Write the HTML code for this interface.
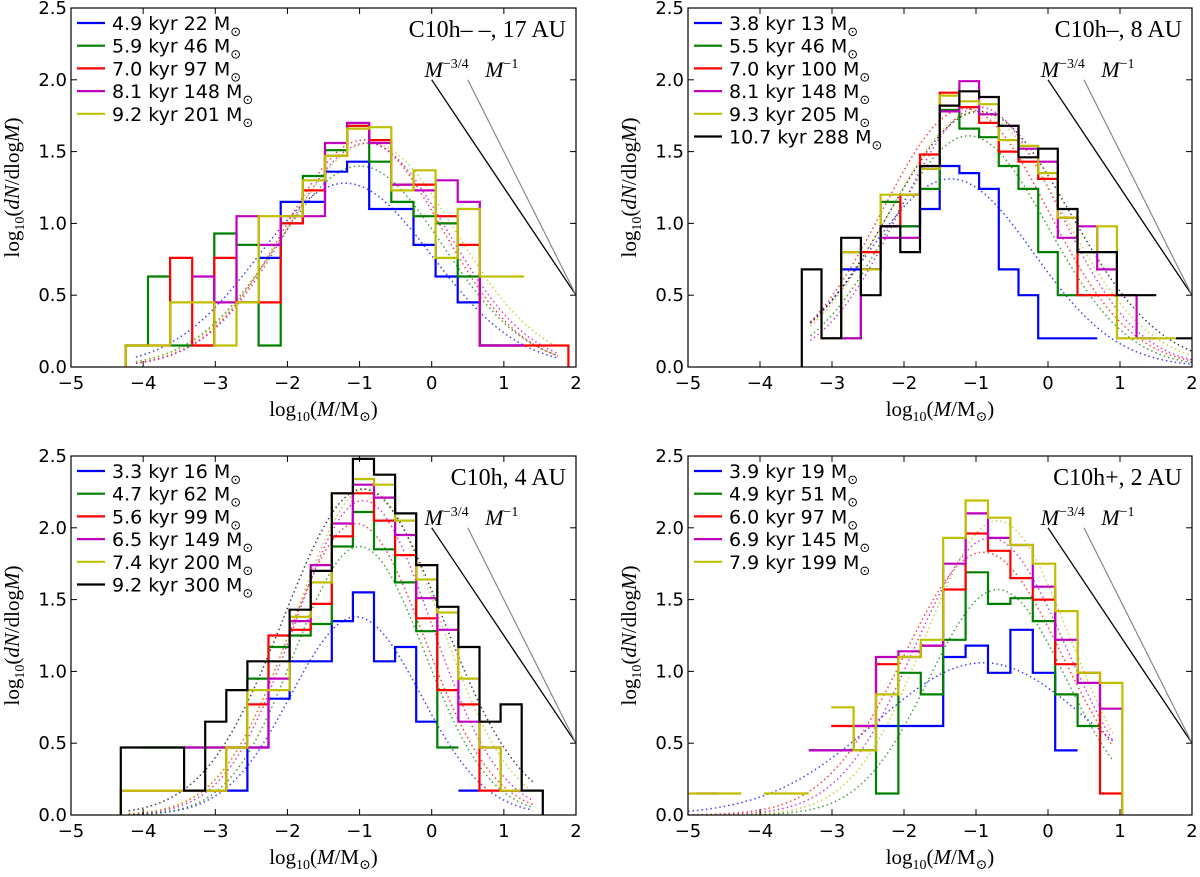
<!DOCTYPE html>
<html><head><meta charset="utf-8"><style>
html,body{margin:0;padding:0;background:#fff;}
svg{display:block;}
.tk{font-family:"DejaVu Sans","Liberation Sans",sans-serif;font-size:18px;fill:#000;}
.lg{font-family:"DejaVu Sans","Liberation Sans",sans-serif;font-size:19px;fill:#000;}
.sr{font-family:"Liberation Serif","DejaVu Serif",serif;fill:#000;}
</style></head><body>
<svg id="fig" width="1200" height="877" viewBox="0 0 1200 877" xmlns="http://www.w3.org/2000/svg"></svg>
<script>
// ---------- Data ----------
const xTicks = [-5,-4,-3,-2,-1,0,1,2];
const yTicks = [0.0,0.5,1.0,1.5,2.0,2.5];
const seriesColors = ['#0000ff','#008000','#ff0000','#bf00bf','#bfbf00','#000000'];

// Panel 1: C10h--, 17 AU
const p1Title = 'C10h\u2013 \u2013, 17 AU';
const p1Labels = ['4.9 kyr 22 M','5.9 kyr 46 M','7.0 kyr 97 M','8.1 kyr 148 M','9.2 kyr 201 M'];
const p1BinStart = -4.24, p1BinWidth = 0.3067;
const p1Blue   = [null,null,null,null,null,null,0.76,1.15,1.15,1.36,1.43,1.10,1.10,0.85,0.63,0.45,0.15,0.15];
const p1Green  = [0.15,0.63,0.15,0.15,0.93,0.85,0.15,1.00,1.33,1.51,1.68,1.43,1.15,1.05,1.00,0.63,0.15];
const p1Red    = [0.15,0.15,0.76,0.15,0.76,0.45,0.45,1.00,1.23,1.47,1.68,1.58,1.27,1.27,1.05,0.85,0.15,0.15,0.15,0.15];
const p1Purple = [null,null,null,0.63,0.45,1.05,0.85,1.05,1.05,1.56,1.70,1.56,1.27,1.23,1.30,1.15,0.15,0.15];
const p1Yellow = [0.15,0.15,0.45,0.45,0.15,0.45,1.05,1.05,1.30,1.47,1.66,1.67,1.23,1.37,0.76,1.10,0.63,0.63];
const p1FitPeak  = [1.28,1.40,1.58,1.56,1.56];
const p1FitMu    = [-1.20,-1.00,-0.95,-0.90,-0.85];
const p1FitSigma = [1.20,1.15,1.10,1.12,1.18];
const p1FitRange = [-4.1,1.75];

// Panel 2: C10h-, 8 AU
const p2Title = 'C10h\u2013, 8 AU';
const p2Labels = ['3.8 kyr 13 M','5.5 kyr 46 M','7.0 kyr 100 M','8.1 kyr 148 M','9.3 kyr 205 M','10.7 kyr 288 M'];
const p2BinStart = -3.42, p2BinWidth = 0.2736;
const p2Blue   = [null,null,0.68,0.68,0.98,0.98,1.10,1.40,1.35,1.24,0.68,0.50,0.20,0.20,0.20];
const p2Green  = [null,0.20,0.20,0.68,1.15,0.98,1.24,1.79,1.66,1.60,1.40,1.24,0.80,0.50,0.50];
const p2Red    = [null,0.20,0.80,0.80,0.98,1.20,1.48,1.91,1.81,1.70,1.50,1.43,1.31,1.04,0.50,0.50];
const p2Purple = [null,0.20,0.20,0.68,0.90,0.90,1.38,1.78,1.99,1.76,1.68,1.52,1.43,0.90,0.98,0.68,0.50,0.20];
const p2Yellow = [null,0.20,0.80,0.68,1.20,1.20,1.38,1.89,1.85,1.83,1.58,1.54,1.35,1.04,0.80,0.98,0.20,0.20,0.20];
const p2Black  = [0.68,0.20,0.90,0.50,0.98,0.80,1.40,1.82,1.92,1.88,1.68,1.46,1.52,1.10,0.80,0.80,0.50,0.50,null,0.20];
const p2FitPeak  = [1.31,1.61,1.80,1.81,1.78,1.78];
const p2FitMu    = [-1.35,-1.10,-1.15,-0.95,-1.00,-0.95];
const p2FitSigma = [1.15,1.10,1.15,1.10,1.20,1.25];
const p2FitRange = [-3.3,2.0];

// Panel 3: C10h, 4 AU
const p3Title = 'C10h, 4 AU';
const p3Labels = ['3.3 kyr 16 M','4.7 kyr 62 M','5.6 kyr 99 M','6.5 kyr 149 M','7.4 kyr 200 M','9.2 kyr 300 M'];
const p3BinStart = -4.31, p3BinWidth = 0.2925;
const p3Blue   = [null,null,null,null,null,0.17,0.47,0.81,1.07,1.07,1.35,1.55,1.07,1.17,0.65,null,0.17];
const p3Green  = [null,0.47,0.47,0.47,0.47,0.47,0.95,1.17,1.25,1.33,1.87,2.11,1.85,1.62,1.28,0.47];
const p3Red    = [0.17,0.17,0.17,0.17,0.17,0.47,0.77,1.25,1.29,1.47,1.94,2.24,2.05,1.81,1.37,0.87,0.77,0.17,0.17];
const p3Purple = [null,null,null,0.47,0.47,0.47,0.47,0.95,1.35,1.74,2.03,2.30,2.21,1.95,1.51,1.29,0.65,0.47,0.17];
const p3Yellow = [0.17,0.17,0.17,0.17,0.17,0.47,0.87,0.87,1.38,1.62,2.24,2.34,2.30,2.05,1.64,1.41,0.95,0.47,0.17];
const p3Black  = [0.47,0.47,0.47,0.17,0.65,0.87,1.07,1.07,1.43,1.70,2.24,2.48,2.37,2.10,1.74,1.45,1.17,0.65,0.77,0.17];
const p3FitPeak  = [1.38,1.87,2.03,2.19,2.27,2.27];
const p3FitMu    = [-1.05,-1.00,-1.05,-0.95,-0.90,-0.95];
const p3FitSigma = [0.90,0.90,0.95,0.95,1.00,1.10];
const p3FitRange = [-4.2,1.4];

// Panel 4: C10h+, 2 AU
const p4Title = 'C10h+, 2 AU';
const p4Labels = ['3.9 kyr 19 M','4.9 kyr 51 M','6.0 kyr 97 M','6.9 kyr 145 M','7.9 kyr 199 M'];
const p4BinStart = -5.19, p4BinWidth = 0.3112;
const p4Blue   = [null,null,null,null,null,null,0.45,0.45,0.45,0.62,0.62,0.62,1.10,1.18,0.99,1.29,0.99,0.45];
const p4Green  = [null,null,null,null,null,null,null,null,0.45,0.15,0.99,0.84,1.22,1.69,1.47,1.51,1.35,0.84,0.62];
const p4Red    = [null,null,null,null,null,null,null,0.62,0.62,1.05,1.10,1.18,1.57,1.96,1.84,1.65,1.50,1.05,0.99,0.15];
const p4Purple = [null,0.15,null,null,null,null,0.45,0.45,0.62,1.10,1.14,1.18,1.75,2.10,1.93,1.88,1.59,1.22,0.92,0.74];
const p4Yellow = [0.15,0.15,0.15,null,0.15,0.15,null,0.75,0.45,0.84,1.10,1.22,1.93,2.19,2.07,1.88,1.75,1.42,0.99,0.92];
const p4FitPeak  = [1.06,1.57,1.83,1.93,2.05];
const p4FitMu    = [-0.90,-0.70,-0.90,-0.80,-0.70];
const p4FitSigma = [1.50,0.95,1.10,1.05,1.00];
const p4FitRange = [-5.0,0.9];

// ---------- Rendering ----------
const NS='http://www.w3.org/2000/svg';
const svg=document.getElementById('fig');
function mk(tag,attrs,parent){const e=document.createElementNS(NS,tag);for(const k in attrs)e.setAttribute(k,attrs[k]);(parent||svg).appendChild(e);return e;}

const panels=[
 {id:'p1',L:71,T:8,W:505,H:359,title:p1Title,labels:p1Labels,bs:p1BinStart,bw:p1BinWidth,series:[p1Blue,p1Green,p1Red,p1Purple,p1Yellow],fp:p1FitPeak,fm:p1FitMu,fs:p1FitSigma,fr:p1FitRange},
 {id:'p2',L:688,T:8,W:504,H:359,title:p2Title,labels:p2Labels,bs:p2BinStart,bw:p2BinWidth,series:[p2Blue,p2Green,p2Red,p2Purple,p2Yellow,p2Black],fp:p2FitPeak,fm:p2FitMu,fs:p2FitSigma,fr:p2FitRange},
 {id:'p3',L:71,T:456,W:505,H:359,title:p3Title,labels:p3Labels,bs:p3BinStart,bw:p3BinWidth,series:[p3Blue,p3Green,p3Red,p3Purple,p3Yellow,p3Black],fp:p3FitPeak,fm:p3FitMu,fs:p3FitSigma,fr:p3FitRange},
 {id:'p4',L:688,T:456,W:504,H:359,title:p4Title,labels:p4Labels,bs:p4BinStart,bw:p4BinWidth,series:[p4Blue,p4Green,p4Red,p4Purple,p4Yellow],fp:p4FitPeak,fm:p4FitMu,fs:p4FitSigma,fr:p4FitRange}
];
const colorNames=['blue','green','red','magenta','yellow','black'];

panels.forEach((p,pi)=>{
  const sx=v=>p.L+(v+5)/7*p.W;
  const sy=v=>p.T+p.H-(v/2.5)*p.H;
  const g=mk('g',{});
  
  
  const cp=mk('clipPath',{id:'clip'+pi},g);
  mk('rect',{x:p.L,y:p.T,width:p.W,height:p.H},cp);
  const plot=mk('g',{'clip-path':'url(#clip'+pi+')'},g);

  p.fp.forEach((pk,si)=>{
    let pts=[];
    for(let k=0;k<=120;k++){const x=p.fr[0]+(p.fr[1]-p.fr[0])*k/120;const y=pk*Math.exp(-Math.pow(x-p.fm[si],2)/(2*p.fs[si]*p.fs[si]));pts.push(sx(x).toFixed(1)+','+sy(y).toFixed(1));}
    const pl=mk('polyline',{points:pts.join(' '),fill:'none',stroke:seriesColors[si],'stroke-width':1.5,'stroke-dasharray':'1.5,3',opacity:0.75},plot);
    
    
  });
  p.series.forEach((arr,si)=>{
    let d='';
    for(let i=0;i<arr.length;i++){
      const v=arr[i]; if(v===null)continue;
      const x0=sx(p.bs+i*p.bw),x1=sx(p.bs+(i+1)*p.bw);
      const prev=i>0?arr[i-1]:null;
      if(i===0) d+=`M${x0.toFixed(1)},${sy(0).toFixed(1)}L${x0.toFixed(1)},${sy(v).toFixed(1)}`;
      else if(prev!==null) d+=`L${x0.toFixed(1)},${sy(v).toFixed(1)}`;
      else d+=`M${x0.toFixed(1)},${sy(v).toFixed(1)}`;
      d+=`L${x1.toFixed(1)},${sy(v).toFixed(1)}`;
      if(i===arr.length-1 && i>=19) d+=`L${x1.toFixed(1)},${sy(0).toFixed(1)}`;
    }
    const path=mk('path',{d:d,fill:'none',stroke:seriesColors[si],'stroke-width':2.2},plot);
    
    
  });
  const l1=mk('line',{x1:sx(0),y1:sy(2.0),x2:sx(2),y2:sy(0.5),stroke:'#000','stroke-width':1.3},g);
  
  
  const l2=mk('line',{x1:sx(0.5),y1:sy(2.0),x2:sx(2),y2:sy(0.5),stroke:'#888','stroke-width':1.2},g);
  
  
  const t1=mk('text',{x:sx(-0.1),y:sy(2.0)-3,class:'sr','font-size':22},g);
  t1.innerHTML='<tspan font-style="italic">M</tspan><tspan font-size="14" dy="-9">\u22123/4</tspan>';
  
  
  const t2=mk('text',{x:sx(0.74),y:sy(2.0)-3,class:'sr','font-size':22},g);
  t2.innerHTML='<tspan font-style="italic">M</tspan><tspan font-size="14" dy="-9">\u22121</tspan>';
  
  

  const fr=mk('rect',{x:p.L,y:p.T,width:p.W,height:p.H,fill:'none',stroke:'#000','stroke-width':1.2},g);
  
  
  xTicks.forEach(v=>{
    const x=sx(v);
    mk('line',{x1:x,y1:p.T+p.H,x2:x,y2:p.T+p.H-6,stroke:'#000','stroke-width':1},g);
    mk('line',{x1:x,y1:p.T,x2:x,y2:p.T+6,stroke:'#000','stroke-width':1},g);
    const t=mk('text',{x:x,y:p.T+p.H+22,class:'tk','text-anchor':'middle'},g);
    t.textContent=(v<0?'\u2212'+(-v):''+v);
    
    
  });
  yTicks.forEach(v=>{
    const y=sy(v);
    mk('line',{x1:p.L,y1:y,x2:p.L+6,y2:y,stroke:'#000','stroke-width':1},g);
    mk('line',{x1:p.L+p.W,y1:y,x2:p.L+p.W-6,y2:y,stroke:'#000','stroke-width':1},g);
    const t=mk('text',{x:p.L-4,y:y+6,class:'tk','text-anchor':'end'},g);
    t.textContent=v.toFixed(1);
    
    
  });
  const tt=mk('text',{x:p.L+p.W-10,y:p.T+29,class:'sr','font-size':24,'text-anchor':'end'},g);
  tt.textContent=p.title;
  
  
  p.labels.forEach((lab,si)=>{
    const cy=p.T+15+si*22.7;
    const lg=mk('g',{},g);
    
    
    mk('line',{x1:p.L+6,y1:cy,x2:p.L+34,y2:cy,stroke:seriesColors[si],'stroke-width':2.2},lg);
    const t=mk('text',{x:p.L+41,y:cy+7,class:'lg'},lg);
    t.innerHTML=lab+'<tspan font-size="13" dy="6">\u2299</tspan>';
  });
  const xl=mk('text',{x:p.L+p.W/2,y:p.T+p.H+49,class:'sr','font-size':21,'text-anchor':'middle'},g);
  xl.innerHTML='log<tspan font-size="14" dy="5">10</tspan><tspan dy="-5">(</tspan><tspan font-style="italic">M</tspan>/M<tspan font-size="14" dy="5">\u2299</tspan><tspan dy="-5">)</tspan>';
  
  
  const yx=p.L-52, yy=p.T+p.H/2;
  const yl=mk('text',{x:yx,y:yy,class:'sr','font-size':21,'text-anchor':'middle',transform:`rotate(-90 ${yx} ${yy})`},g);
  yl.innerHTML='log<tspan font-size="14" dy="5">10</tspan><tspan dy="-5">(</tspan><tspan font-style="italic">dN</tspan>/dlog<tspan font-style="italic">M</tspan>)';
  
  
});
</script>
</body></html>
